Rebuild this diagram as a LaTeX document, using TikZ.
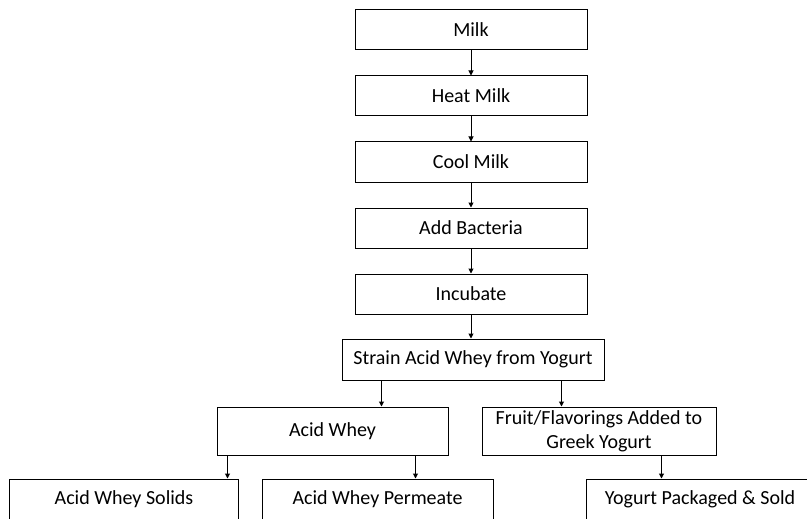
\documentclass[tikz,border=0pt]{standalone}
\usepackage{fontspec}
\setmainfont{Carlito}
\usetikzlibrary{arrows.meta}
\begin{document}
\begin{tikzpicture}[x=1pt,y=-1pt,line width=1pt,
  box/.style={draw,rectangle,inner sep=0pt,align=center,minimum height=40,
    font=\fontsize{20}{24}\selectfont},
  arr/.style={-{Triangle[length=5pt,width=5pt]}}]
\clip (0,0) rectangle (807,519);

\node[box,minimum width=232] (milk) at (471,30) {Milk};
\node[box,minimum width=232] (heat) at (471,96) {Heat Milk};
\node[box,minimum width=232] (cool) at (471,162) {Cool Milk};
\node[box,minimum width=232] (bact) at (471,228) {Add Bacteria};
\node[box,minimum width=232] (incu) at (471,294) {Incubate};
\node[box,minimum width=262,minimum height=41] (strain) at (473,359.5) {Strain Acid Whey from Yogurt};

\node[box,minimum width=231,minimum height=48] (whey) at (332.5,431) {Acid Whey};
\node[box,minimum width=234,minimum height=48] (fruit) at (599,431) {Fruit/Flavorings Added to\\Greek Yogurt};

\node[box,minimum width=229] (solids) at (124,499) {Acid Whey Solids};
\node[box,minimum width=231] (perm) at (377.5,499) {Acid Whey Permeate};
\node[box,minimum width=228] (pack) at (700,499) {Yogurt Packaged \& Sold};

\draw[arr] (milk) -- (heat);
\draw[arr] (heat) -- (cool);
\draw[arr] (cool) -- (bact);
\draw[arr] (bact) -- (incu);
\draw[arr] (incu.south) -- (incu.south |- strain.north);

\draw[arr] ([xshift=40]strain.south west) -- ([xshift=40]strain.south west |- whey.north);
\draw[arr] ([xshift=-43]strain.south east) -- ([xshift=-43]strain.south east |- fruit.north);

\draw[arr] ([xshift=11]whey.south west) -- ([xshift=11]whey.south west |- solids.north);
\draw[arr] ([xshift=-33]whey.south east) -- ([xshift=-33]whey.south east |- perm.north);
\draw[arr] ([xshift=-55]fruit.south east) -- ([xshift=-55]fruit.south east |- pack.north);
\end{tikzpicture}
\end{document}
